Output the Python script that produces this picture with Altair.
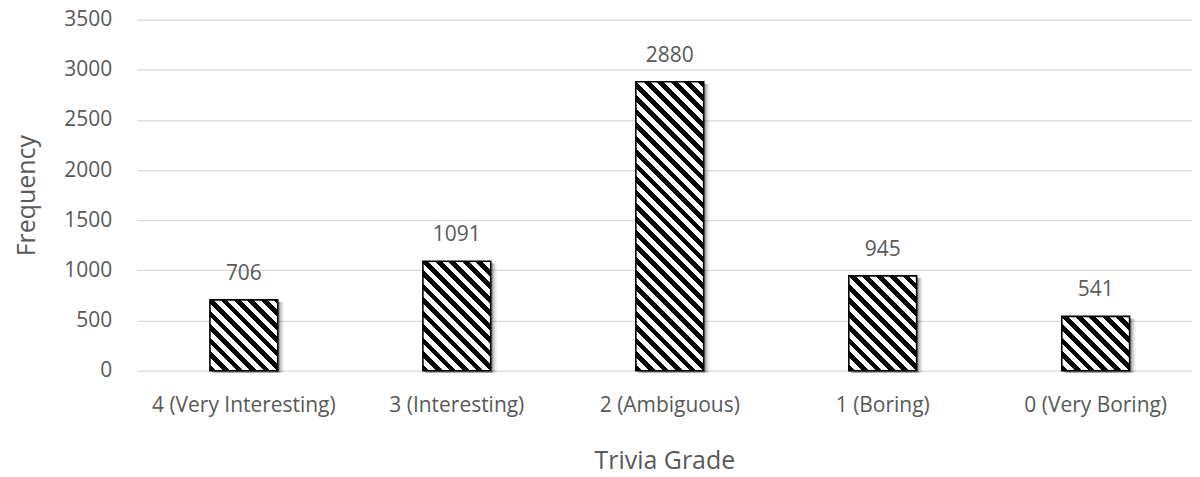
import math
import altair as alt
import pandas as pd

categories = ["4 (Very Interesting)", "3 (Interesting)", "2 (Ambiguous)", "1 (Boring)", "0 (Very Boring)"]
values = [706, 1091, 2880, 945, 541]

df = pd.DataFrame({"grade": categories, "freq": values})

W, H = 1058, 352
YMAX = 3500
BAR_W = 68
PERIOD = 13.5  # horizontal stripe period in px
FONT = "Open Sans"
TXT = "#595959"
FS = 21
TFS = 25

x_enc = alt.X("grade:N", sort=categories,
              scale=alt.Scale(paddingInner=0.6815, paddingOuter=0.3185, align=0.54),
              axis=alt.Axis(title="Trivia Grade", labelAngle=0, labelFontSize=FS, labelColor=TXT,
                            labelFont=FONT, labelPadding=24, labelLimit=400, ticks=False, domain=False,
                            titleFont=FONT, titleFontSize=TFS, titleColor=TXT, titleFontWeight="normal",
                            titlePadding=33))
y_enc = alt.Y("freq:Q", scale=alt.Scale(domain=[0, YMAX]),
              axis=alt.Axis(title="Frequency", values=list(range(0, 3501, 500)), format="d",
                            labelFontSize=FS, labelColor=TXT, labelFont=FONT, labelPadding=25,
                            ticks=False, domain=False, gridColor="#d9d9d9", gridWidth=1.3,
                            titleFont=FONT, titleFontSize=TFS, titleColor=TXT, titleFontWeight="normal",
                            titlePadding=24))

base = alt.Chart(df)

layers = []
# soft shadow
for off, op in [(2, 0.28), (4, 0.16), (6, 0.07)]:
    layers.append(base.mark_bar(color="#000000", opacity=op, xOffset=off, yOffset=2)
                  .encode(x=x_enc, y=y_enc))


def stripe_gradient(w, h):
    t = (w + h) / (w * w + h * h)
    n = (w + h) / PERIOD
    stops = []
    k = 0
    while k / n < 1:
        a = k / n
        b = min((k + 0.5) / n, 1.0)
        c = min((k + 1) / n, 1.0)
        stops += [alt.GradientStop(offset=a, color="black"),
                  alt.GradientStop(offset=b, color="black"),
                  alt.GradientStop(offset=b, color="white"),
                  alt.GradientStop(offset=c, color="white")]
        k += 1
    return alt.LinearGradient(gradient="linear", stops=stops, x1=0, y1=1, x2=t * w, y2=1 - t * h)


for cat, v in zip(categories, values):
    h = v / YMAX * H
    layers.append(base.transform_filter(alt.datum.grade == cat)
                  .mark_bar(fill=stripe_gradient(BAR_W, h), stroke="black", strokeWidth=1.6)
                  .encode(x=x_enc, y=y_enc))

layers.append(base.mark_text(baseline="alphabetic", dy=-20, fontSize=FS, font=FONT, color=TXT)
              .encode(x=x_enc, y=y_enc, text="freq:Q"))

chart = alt.layer(*layers).properties(
    width=W, height=H,
    autosize=alt.AutoSizeParams(type="none"),
    padding={"left": 129, "top": 11, "right": 0, "bottom": 106},
).configure_view(stroke=None)

chart.save("out.html", embed_options={"renderer": "svg", "actions": False})
